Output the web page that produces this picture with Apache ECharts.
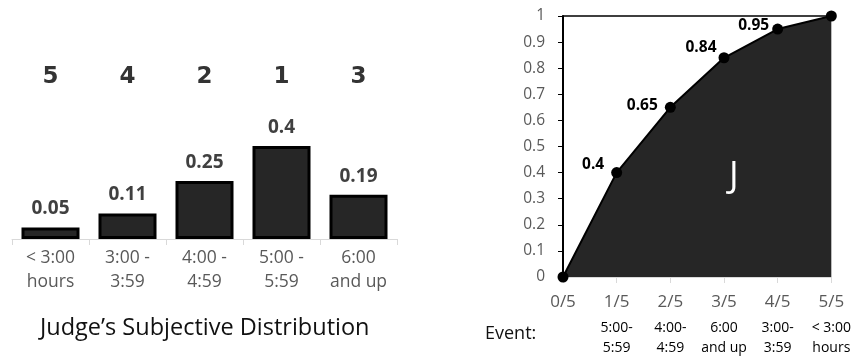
<!DOCTYPE html>
<html><head><meta charset="utf-8">
<script src="https://cdn.jsdelivr.net/npm/echarts@6/dist/echarts.min.js"></script>
<style>html,body{margin:0;padding:0;background:#fff}#c{width:854px;height:360px}</style>
</head><body><div id="c"></div>
<script>
const categories = ['< 3:00\nhours', '3:00 -\n3:59', '4:00 -\n4:59', '5:00 -\n5:59', '6:00\nand up'];
const probabilities = [0.05, 0.11, 0.25, 0.4, 0.19];
const ranks = ['5', '4', '2', '1', '3'];
const cumTicks = [0, 1, 2, 3, 4, 5];
const cumValues = [0, 0.4, 0.65, 0.84, 0.95, 1];
const eventLabels = ['', '5:00-\n5:59', '4:00-\n4:59', '6:00\nand up', '3:00-\n3:59', '< 3:00\nhours'];
const FONT = '"Open Sans", sans-serif';
// label style offsets for the cumulative points (visual styling only)
const pointLabelOffsets = [null, [1, -8.5], [1, -1.5], [6, -10.5], [5, -3.5], null];

const chart = echarts.init(document.getElementById('c'));
chart.setOption({
  animation: false,
  grid: [
    {left: 12, width: 385, top: 6.5, height: 232.5},
    {left: 563, right: 17, top: 16, bottom: 83}
  ],
  xAxis: [
    {gridIndex: 0, type: 'category', data: categories,
     axisLine: {lineStyle: {color: '#d9d9d9', width: 1}},
     axisTick: {show: true, length: 6, lineStyle: {color: '#d9d9d9'}},
     axisLabel: {color: '#595959', fontFamily: FONT, fontSize: 17.5, lineHeight: 24, margin: 7}},
    {gridIndex: 0, type: 'category', data: ranks, position: 'top', offset: -82,
     axisLine: {show: false}, axisTick: {show: false},
     axisLabel: {color: '#333', fontFamily: '"DejaVu Sans", sans-serif', fontWeight: 'bold', fontSize: 23, margin: 0}},
    {gridIndex: 1, type: 'value', min: 0, max: 5, interval: 1,
     splitLine: {show: false},
     axisLine: {lineStyle: {color: '#d9d9d9'}},
     axisTick: {show: true, length: 6, lineStyle: {color: '#d9d9d9'}},
     axisLabel: {margin: 9, fontFamily: FONT,
       formatter: function (v) {
         const e = eventLabels[v];
         let s = '{a|' + v + '/5}';
         if (e) { const p = e.split('\n'); s += '\n{b|' + p[0] + '}\n{b|' + p[1] + '}'; }
         return s;
       },
       rich: {
         a: {color: '#595959', fontSize: 17, lineHeight: 32, fontFamily: FONT},
         b: {color: '#000', fontSize: 14, lineHeight: 20, fontFamily: FONT}
       }}},
    {gridIndex: 1, type: 'value', min: 0, max: 5, position: 'top',
     splitLine: {show: false}, axisTick: {show: false}, axisLabel: {show: false},
     axisLine: {lineStyle: {color: '#000', width: 1.5}}}
  ],
  yAxis: [
    {gridIndex: 0, type: 'value', min: 0, max: 1, show: false, splitLine: {show: false}},
    {gridIndex: 1, type: 'value', min: 0, max: 1, interval: 0.1,
     splitLine: {show: false},
     axisLine: {show: true, lineStyle: {color: '#000', width: 2}},
     axisTick: {show: true, length: 5, lineStyle: {color: '#000', width: 1}},
     axisLabel: {color: '#595959', fontSize: 15.5, fontFamily: FONT, margin: 18}}
  ],
  series: [
    {type: 'bar', xAxisIndex: 0, yAxisIndex: 0, data: probabilities, barWidth: 58,
     itemStyle: {color: '#262626', borderColor: '#000', borderWidth: 3},
     label: {show: true, position: 'top', distance: 9, color: '#404040', fontWeight: 'bold', fontSize: 19, fontFamily: FONT}},
    {type: 'line', xAxisIndex: 2, yAxisIndex: 1,
     data: cumTicks.map((x, i) => {
       const item = {value: [x, cumValues[i]]};
       if (pointLabelOffsets[i]) item.label = {offset: pointLabelOffsets[i]};
       else item.label = {show: false};
       return item;
     }),
     symbol: 'circle', symbolSize: 11,
     itemStyle: {color: '#000'},
     lineStyle: {color: '#000', width: 2},
     areaStyle: {color: '#262626', opacity: 1},
     label: {show: true, position: 'left', distance: 8, color: '#000', fontWeight: 'bold', fontSize: 15.5, fontFamily: FONT,
       formatter: function (p) { return String(p.value[1]); }}}
  ],
  graphic: [
    {type: 'text', z: 100, left: 40, top: 316, style: {text: 'Judge\u2019s Subjective Distribution', fill: '#111', fontSize: 23.5, fontFamily: FONT}},
    {type: 'text', z: 100, left: 485, top: 325, style: {text: 'Event:', fill: '#111', fontSize: 18, fontFamily: FONT}},
    {type: 'text', z: 100, left: 729, top: 159, style: {text: 'J', fill: '#fff', fontSize: 36, fontFamily: FONT}}
  ]
});
</script></body></html>
